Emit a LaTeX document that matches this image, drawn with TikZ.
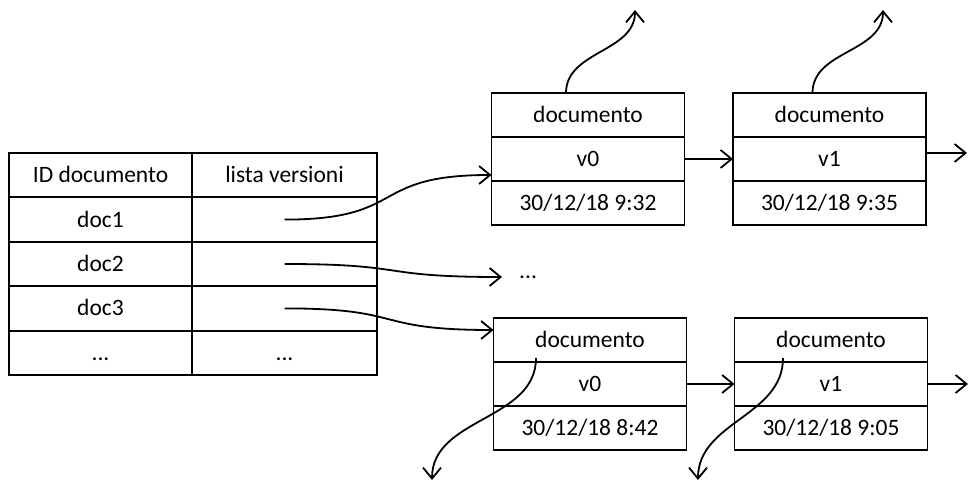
\documentclass[tikz,border=0pt]{standalone}
\usepackage{fontspec}
\setmainfont{Carlito}
\usetikzlibrary{positioning,arrows.meta}

\tikzset{
  cella/.style={draw, line width=1.9pt, inner sep=0pt, outer sep=0pt,
    minimum height=44.4pt, text height=15pt, text depth=0pt,
    font=\fontsize{23.5}{28}\selectfont},
  idcol/.style={cella, minimum width=183pt},
  lscol/.style={cella, minimum width=185pt},
  rec/.style={cella, minimum width=193pt, minimum height=44pt},
  freccia/.style={line width=1.8pt, -{Straight Barb[length=11pt,width=18pt]}}
}

\begin{document}
\begin{tikzpicture}[x=1pt,y=-1pt]
\path[use as bounding box, fill=white] (0,0) rectangle (969,484);

% tabella documenti
\node[idcol] (id0) at (100.5,175.2) {ID documento};
\node[lscol, right=0pt of id0] (ls0) {lista versioni};
\node[idcol, below=0pt of id0] (id1) {doc1};
\node[lscol, right=0pt of id1] (ls1) {};
\node[idcol, below=0pt of id1] (id2) {doc2};
\node[lscol, right=0pt of id2] (ls2) {};
\node[idcol, below=0pt of id2] (id3) {doc3};
\node[lscol, right=0pt of id3] (ls3) {};
\node[idcol, below=0pt of id3] (id4) {...};
\node[lscol, right=0pt of id4] (ls4) {...};

% versioni di doc1
\node[rec] (a0d) at (588,115) {documento};
\node[rec, below=0pt of a0d] (a0v) {v0};
\node[rec, below=0pt of a0v] (a0t) {30/12/18 9:32};
\node[rec] (a1d) at (829.5,115) {documento};
\node[rec, below=0pt of a1d] (a1v) {v1};
\node[rec, below=0pt of a1v] (a1t) {30/12/18 9:35};

% versioni di doc3
\node[rec] (b0d) at (590,340) {documento};
\node[rec, below=0pt of b0d] (b0v) {v0};
\node[rec, below=0pt of b0v] (b0t) {30/12/18 8:42};
\node[rec] (b1d) at (831,340) {documento};
\node[rec, below=0pt of b1d] (b1v) {v1};
\node[rec, below=0pt of b1v] (b1t) {30/12/18 9:05};

\node[anchor=west, inner xsep=17pt, inner ysep=0pt, text height=3pt,
  text depth=0pt, font=\fontsize{23.5}{28}\selectfont] (more) at (502,277) {...};

\coordinate (a1out) at (967,153);
\coordinate (b1out) at (968,384);
\coordinate (ua0) at (635,10);
\coordinate (ua1) at (883,10);
\coordinate (gb0) at (432,480);
\coordinate (gb1) at (698,480);

% puntatori dalla tabella
\draw[freccia] (ls1.center) to[out=0,in=180,looseness=1.5] ([yshift=-16pt]a0v.west);
\draw[freccia] (ls2.center) to[out=0,in=180,looseness=1.5] (more.west);
\draw[freccia] (ls3.center) to[out=0,in=180,looseness=1.5] ([yshift=10pt]b0d.west);

% catene delle versioni
\draw[freccia] (a0v.east) -- (a1v.west);
\draw[freccia] ([yshift=6pt]a1v.east) -- (a1out);
\draw[freccia] (b0v.east) -- (b1v.west);
\draw[freccia] (b1v.east) -- (b1out);

% riferimenti al documento
\draw[freccia] ([xshift=-22pt]a0d.north) to[out=90,in=-90] (ua0);
\draw[freccia] ([xshift=-17pt]a1d.north) to[out=90,in=-90] (ua1);
\draw[freccia] ([xshift=-54pt,yshift=-18pt]b0d.center) to[out=-90,in=90] (gb0);
\draw[freccia] ([xshift=-48pt,yshift=-18pt]b1d.center) to[out=-90,in=90] (gb1);
\end{tikzpicture}
\end{document}
